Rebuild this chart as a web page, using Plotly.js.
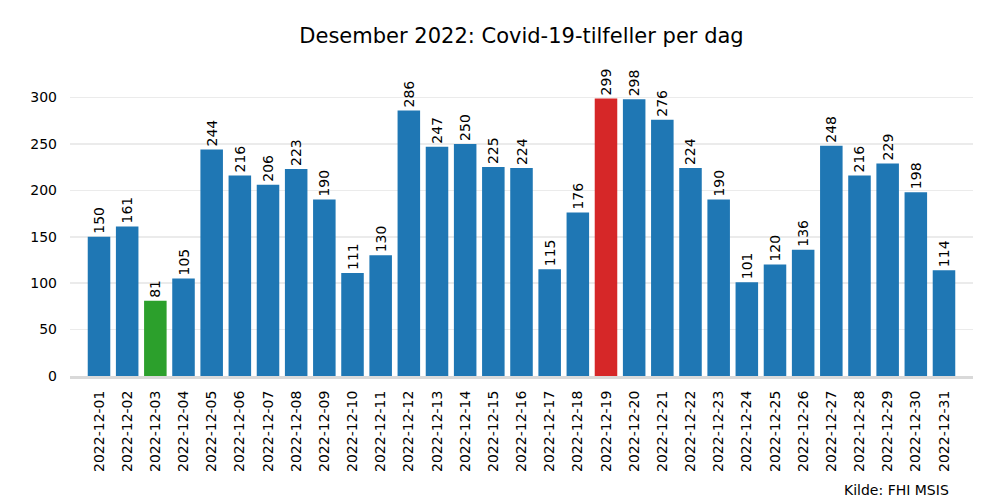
<!DOCTYPE html>
<html><head><meta charset="utf-8">
<script src="https://cdn.plot.ly/plotly-3.0.1.min.js"></script>
<style>body{margin:0;background:#fff}#chart{width:1000px;height:500px}</style>
</head><body><div id="chart"></div>
<script>
const dates = ["2022-12-01","2022-12-02","2022-12-03","2022-12-04","2022-12-05","2022-12-06","2022-12-07","2022-12-08","2022-12-09","2022-12-10","2022-12-11","2022-12-12","2022-12-13","2022-12-14","2022-12-15","2022-12-16","2022-12-17","2022-12-18","2022-12-19","2022-12-20","2022-12-21","2022-12-22","2022-12-23","2022-12-24","2022-12-25","2022-12-26","2022-12-27","2022-12-28","2022-12-29","2022-12-30","2022-12-31"];
const cases = [150,161,81,105,244,216,206,223,190,111,130,286,247,250,225,224,115,176,299,298,276,224,190,101,120,136,248,216,229,198,114];
const titleText = "Desember 2022: Covid-19-tilfeller per dag";
const sourceText = "Kilde: FHI MSIS";

const maxV = Math.max(...cases), minV = Math.min(...cases);
const colors = cases.map(v => v === maxV ? "#d62728" : (v === minV ? "#2ca02c" : "#1f77b4"));

const font = "DejaVu Sans, sans-serif";
Plotly.newPlot("chart", [{
  type: "bar",
  x: dates.map((d,i)=>i),
  y: cases,
  marker: {color: colors},
  text: cases.map(String),
  textposition: "outside",
  textangle: -90,
  constraintext: "none",
  cliponaxis: false,
  textfont: {family: font, size: 14, color: "#000"},
  hoverinfo: "x+y"
}], {
  width: 1000, height: 500,
  margin: {l: 70, r: 27, t: 65, b: 124},
  paper_bgcolor: "#fff", plot_bgcolor: "#fff",
  bargap: 0.2,
  showlegend: false,
  title: {text: titleText, font: {family: font, size: 21, color: "#000"}, xref: "paper", x: 0.5, xanchor: "center", y: 0.928, yanchor: "middle"},
  xaxis: {
    tickmode: "array", tickvals: dates.map((d,i)=>i), ticktext: dates,
    range: [-1.03, 31.03], tickangle: -90,
    tickfont: {family: font, size: 14, color: "#000"},
    ticklabelstandoff: 6,
    showgrid: false, zeroline: false,
    showline: true, linecolor: "#d9d9d9", linewidth: 3,
    ticks: "", ticklen: 0
  },
  yaxis: {
    range: [0, 335], tickvals: [0,50,100,150,200,250,300],
    tickfont: {family: font, size: 14, color: "#000"},
    ticklabelstandoff: 12,
    showgrid: true, gridcolor: "#ebebeb", gridwidth: 1.5,
    zeroline: false, showline: false, ticks: "", ticklen: 0
  },
  annotations: [{
    text: sourceText, xref: "paper", yref: "paper",
    x: 0.9756, y: -0.367, xanchor: "right", yanchor: "middle", showarrow: false,
    font: {family: font, size: 14, color: "#000"}
  }]
}, {displayModeBar: false, staticPlot: true});
</script></body></html>
